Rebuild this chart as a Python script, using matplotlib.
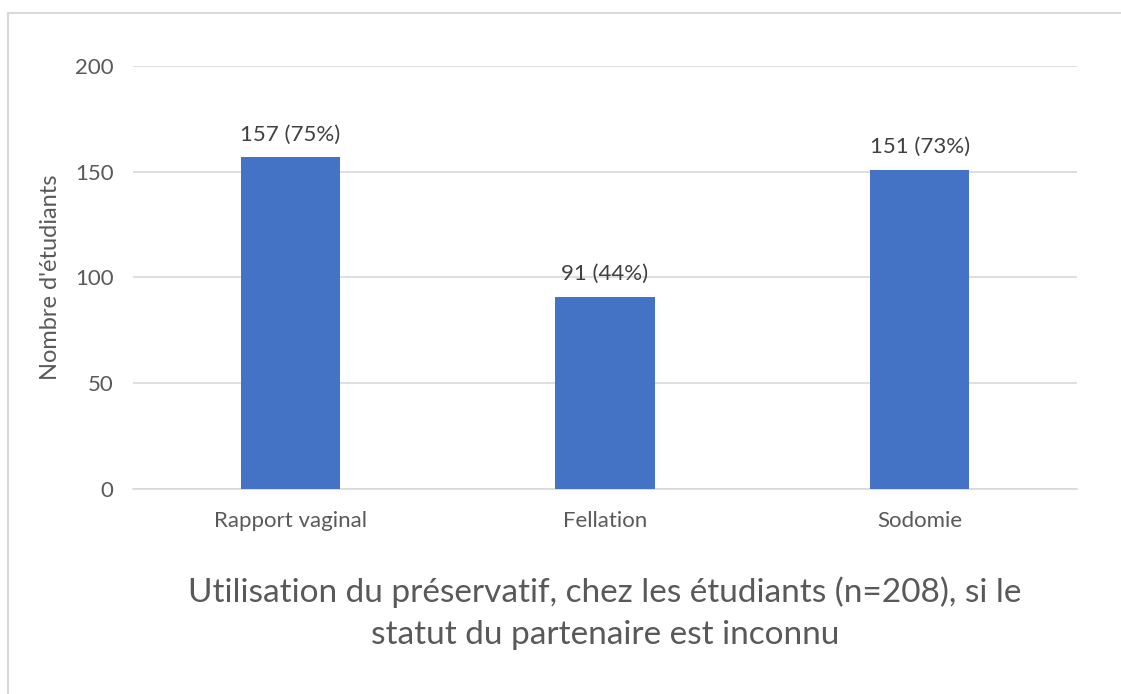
import matplotlib.pyplot as plt
from matplotlib.patches import Rectangle

categories = ['Rapport vaginal', 'Fellation', 'Sodomie']
counts = [157, 91, 151]
percents = [75, 44, 73]
yticks = [0, 50, 100, 150, 200]

plt.rcParams['font.family'] = ['Lato', 'DejaVu Sans']
text_col = '#595959'
grid_col = '#D9D9D9'

fig = plt.figure(figsize=(11.21, 6.94), dpi=100)
ax = fig.add_axes([0.1186, 0.2954, 0.8421, 0.6095])

x = range(len(categories))
bars = ax.bar(x, counts, width=0.315, color='#4472C4', zorder=3)

for b, c, p in zip(bars, counts, percents):
    ax.annotate(f'{c} ({p}%)', (b.get_x() + b.get_width() / 2, c),
                xytext=(0, 9), textcoords='offset points',
                ha='center', va='bottom', fontsize=16, color='#404040')

ax.set_xlim(-0.5, len(categories) - 0.5)
ax.set_ylim(0, 200)
ax.set_yticks(yticks)
ax.set_xticks(list(x))
ax.set_xticklabels(categories)
ax.tick_params(axis='both', length=0, labelsize=16, colors=text_col)
ax.tick_params(axis='y', pad=14)
ax.tick_params(axis='x', pad=16)
ax.grid(axis='y', color=grid_col, linewidth=1.2, zorder=0)
for s in ['top', 'right', 'left']:
    ax.spines[s].set_visible(False)
ax.spines['bottom'].set_color(grid_col)
ax.spines['bottom'].set_linewidth(1.2)
ax.set_ylabel("Nombre d'étudiants", fontsize=17, color=text_col, labelpad=10)

fig.text(0.5397, 0.116, 'Utilisation du préservatif, chez les étudiants (n=208), si le\nstatut du partenaire est inconnu',
         ha='center', va='center', fontsize=24, color=text_col, linespacing=1.5)

fig.patches.append(Rectangle((8 / 1121, -0.1), 1.2, 1 - 13 / 694 + 0.1,
                             transform=fig.transFigure, fill=False,
                             edgecolor=grid_col, linewidth=1.5))

fig.savefig('out.png', dpi=100)
